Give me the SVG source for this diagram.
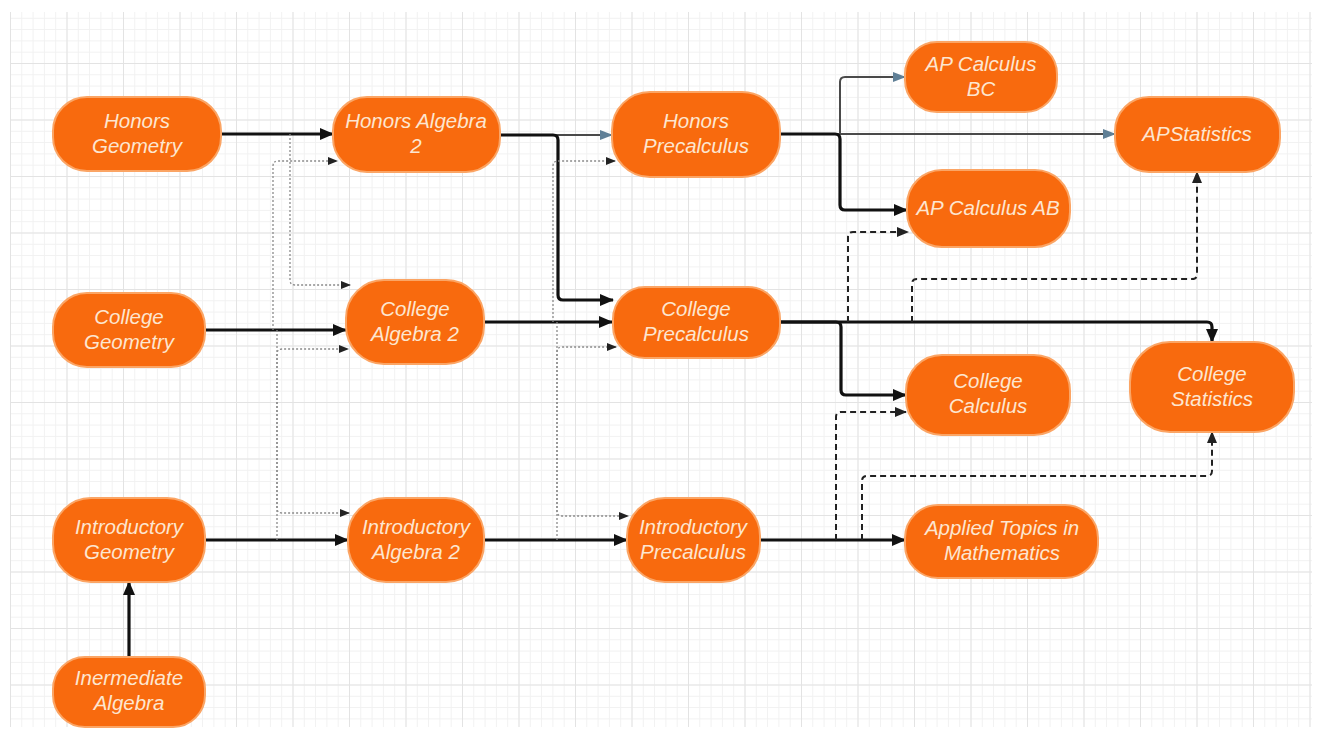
<svg xmlns="http://www.w3.org/2000/svg" width="1319" height="734" viewBox="0 0 1319 734">
<style>
.node rect{fill:#f86a0e;stroke:#fba565;stroke-width:2}
.node text{font-family:"Liberation Sans",Arial,sans-serif;font-style:italic;font-size:20.5px;fill:#fde6d0;text-anchor:middle}
.thick{fill:none;stroke:#111;stroke-width:3.2;marker-end:url(#ah)}
.gray{fill:none;stroke:#4a4a4a;stroke-width:2;marker-end:url(#ahb)}
.dash{fill:none;stroke:#222;stroke-width:2;stroke-dasharray:6 4;marker-end:url(#ahd)}
.dot{fill:none;stroke:#8a8a8a;stroke-width:1.3;stroke-dasharray:2 2;marker-end:url(#aht)}
</style>
<defs>
<pattern id="gminor" width="11.3" height="11.3" patternUnits="userSpaceOnUse" x="10" y="6.5">
<path d="M0,0.5 H11.3 M0.5,0 V11.3" fill="none" stroke="#f1f1f1" stroke-width="1"/>
</pattern>
<pattern id="gmajor" width="56.5" height="56.5" patternUnits="userSpaceOnUse" x="10" y="6.5">
<path d="M0,0.5 H56.5 M0.5,0 V56.5" fill="none" stroke="#e3e3e3" stroke-width="1"/>
</pattern>
<marker id="ah" markerUnits="userSpaceOnUse" markerWidth="14" markerHeight="12" refX="13" refY="6" orient="auto">
<path d="M0,0 L14,6 L0,12 z" fill="#111"/>
</marker>
<marker id="ahb" markerUnits="userSpaceOnUse" markerWidth="13" markerHeight="10" refX="12" refY="5" orient="auto">
<path d="M0,0 L13,5 L0,10 z" fill="#5f7f96"/>
</marker>
<marker id="ahd" markerUnits="userSpaceOnUse" markerWidth="12" markerHeight="10" refX="11" refY="5" orient="auto">
<path d="M0,0 L12,5 L0,10 z" fill="#222"/>
</marker>
<marker id="aht" markerUnits="userSpaceOnUse" markerWidth="10" markerHeight="8" refX="9" refY="4" orient="auto">
<path d="M0,0 L10,4 L0,8 z" fill="#222"/>
</marker>
</defs>
<rect width="1319" height="734" fill="#ffffff"/>
<rect x="10" y="12" width="1302" height="715" fill="url(#gminor)"/>
<rect x="10" y="12" width="1302" height="715" fill="url(#gmajor)"/>

<g id="connectors">
<path class="gray" d="M500,135 H612"/>
<path class="gray" d="M840,134 V82 Q840,77 845,77 H905"/>
<path class="gray" d="M780,134 H1115"/>
<path class="thick" d="M221,134 H333"/>
<path class="thick" d="M500,135 H553 Q558,135 558,140 V295 Q558,300 563,300 H613"/>
<path class="thick" d="M780,134 H835 Q840,134 840,139 V205 Q840,210 845,210 H907"/>
<path class="thick" d="M205,330 H346"/>
<path class="thick" d="M484,322 H612"/>
<path class="thick" d="M780,322 H1207 Q1212,322 1212,327 V342"/>
<path class="thick" d="M780,322 H836 Q841,322 841,327 V390 Q841,395 846,395 H906"/>
<path class="thick" d="M205,540 H348"/>
<path class="thick" d="M484,540 H627"/>
<path class="thick" d="M760,540 H905"/>
<path class="thick" d="M129,657 V582"/>
<path class="dash" d="M848,322 V237 Q848,232 853,232 H908"/>
<path class="dash" d="M912,322 V284 Q912,279 917,279 H1192 Q1197,279 1197,274 V172"/>
<path class="dash" d="M836,540 V417 Q836,412 841,412 H906"/>
<path class="dash" d="M862,540 V481 Q862,476 867,476 H1207 Q1212,476 1212,471 V432"/>
<path class="dot" d="M290,134 V280 Q290,285 295,285 H350"/>
<path class="dot" d="M273,330 V166 Q273,161 278,161 H337"/>
<path class="dot" d="M277,330 V508 Q277,513 282,513 H349"/>
<path class="dot" d="M277,540 V354 Q277,349 282,349 H348"/>
<path class="dot" d="M553,322 V166 Q553,161 558,161 H615"/>
<path class="dot" d="M557,322 V511 Q557,516 562,516 H628"/>
<path class="dot" d="M557,540 V352 Q557,347 562,347 H616"/>
</g>

<g id="honors-geometry" class="node"><rect x="53" y="97" width="168" height="74" rx="34"/><text x="137" y="128">Honors</text><text x="137" y="153">Geometry</text></g>
<g id="honors-algebra-2" class="node"><rect x="333" y="97" width="167" height="75" rx="34"/><text x="416" y="128">Honors Algebra</text><text x="416" y="153">2</text></g>
<g id="honors-precalculus" class="node"><rect x="612" y="92" width="168" height="85" rx="38"/><text x="696" y="128">Honors</text><text x="696" y="153">Precalculus</text></g>
<g id="ap-calculus-bc" class="node"><rect x="905" y="42" width="152" height="70" rx="32"/><text x="981" y="71">AP Calculus</text><text x="981" y="96">BC</text></g>
<g id="ap-statistics" class="node"><rect x="1115" y="97" width="165" height="75" rx="34"/><text x="1197" y="141">APStatistics</text></g>
<g id="ap-calculus-ab" class="node"><rect x="907" y="170" width="163" height="77" rx="35"/><text x="988" y="215">AP Calculus AB</text></g>
<g id="college-geometry" class="node"><rect x="53" y="293" width="152" height="74" rx="34"/><text x="129" y="324">College</text><text x="129" y="349">Geometry</text></g>
<g id="college-algebra-2" class="node"><rect x="346" y="280" width="138" height="84" rx="38"/><text x="415" y="316">College</text><text x="415" y="341">Algebra 2</text></g>
<g id="college-precalculus" class="node"><rect x="613" y="287" width="167" height="71" rx="32"/><text x="696" y="316">College</text><text x="696" y="341">Precalculus</text></g>
<g id="college-calculus" class="node"><rect x="906" y="355" width="164" height="80" rx="36"/><text x="988" y="388">College</text><text x="988" y="413">Calculus</text></g>
<g id="college-statistics" class="node"><rect x="1130" y="342" width="164" height="90" rx="40"/><text x="1212" y="381">College</text><text x="1212" y="406">Statistics</text></g>
<g id="introductory-geometry" class="node"><rect x="53" y="498" width="152" height="84" rx="38"/><text x="129" y="534">Introductory</text><text x="129" y="559">Geometry</text></g>
<g id="introductory-algebra-2" class="node"><rect x="348" y="498" width="136" height="84" rx="38"/><text x="416" y="534">Introductory</text><text x="416" y="559">Algebra 2</text></g>
<g id="introductory-precalculus" class="node"><rect x="627" y="498" width="133" height="84" rx="38"/><text x="693" y="534">Introductory</text><text x="693" y="559">Precalculus</text></g>
<g id="applied-topics" class="node"><rect x="905" y="505" width="193" height="73" rx="33"/><text x="1002" y="535">Applied Topics in</text><text x="1002" y="560">Mathematics</text></g>
<g id="intermediate-algebra" class="node"><rect x="53" y="657" width="152" height="70" rx="32"/><text x="129" y="685">Inermediate</text><text x="129" y="710">Algebra</text></g>
</svg>
